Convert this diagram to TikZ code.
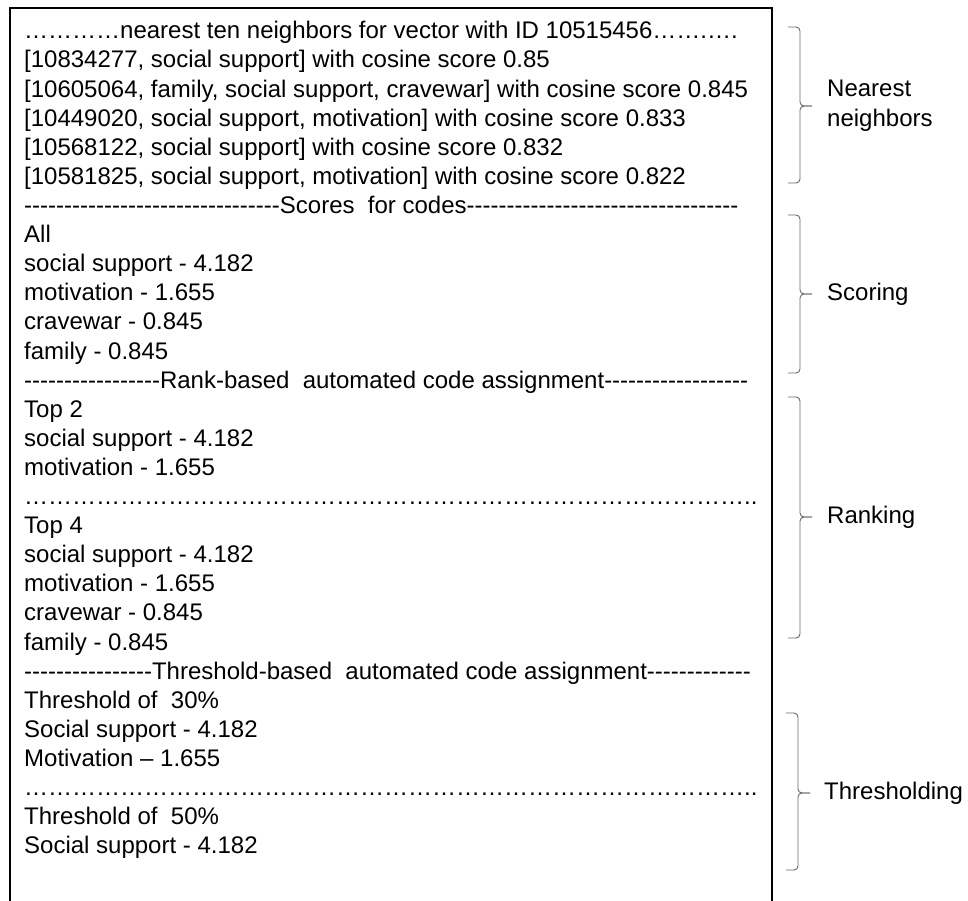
\documentclass[tikz,border=0pt]{standalone}
\usepackage{fontspec}
\setmainfont{Liberation Sans}[Ligatures=TeXOff]

% a row of dots across the frame
\newcommand{\dotrow}{\foreach\k in {1,...,30}{…}..}

\tikzset{
	row/.style={anchor=base west, inner sep=0pt, font=\fontsize{24}{29}\selectfont},
	tag/.style={anchor=west, inner sep=0pt, align=left, font=\fontsize{24}{30}\selectfont},
	curly/.style={draw=black!60, line width=0.9pt, rounded corners=4pt}
}

\begin{document}
\begin{tikzpicture}[x=1pt, y=-1pt]
	\useasboundingbox (0,0) rectangle (968,901);
	
	% frame, open at the bottom
	\draw[line width=2pt] (9.5,901) -- (9.5,8) -- (772,8) -- (772,901);
	
	% nearest neighbors
	\node[row] at (24,38.9) (r1) {…………nearest ten neighbors for vector with ID 10515456…….….};
	\node[row] at (24,68.0) (r2) {[10834277, social support] with cosine score 0.85};
	\node[row] at (24,97.1) (r3) {[10605064, family, social support, cravewar] with cosine score 0.845};
	\node[row] at (24,126.2) (r4) {[10449020, social support, motivation] with cosine score 0.833};
	\node[row] at (24,155.3) (r5) {[10568122, social support] with cosine score 0.832};
	\node[row] at (24,184.4) (r6) {[10581825, social support, motivation] with cosine score 0.822};
	
	% scores
	\node[row] at (24,213.5) (r7) {--------------------------------Scores\ \ for codes----------------------------------};
	\node[row] at (24,242.6) (r8) {All};
	\node[row] at (24,271.7) (r9) {social support - 4.182};
	\node[row] at (24,300.8) (r10) {motivation - 1.655};
	\node[row] at (24,329.9) (r11) {cravewar - 0.845};
	\node[row] at (24,359.0) (r12) {family - 0.845};
	
	% ranks
	\node[row] at (24,388.1) (r13) {-----------------Rank-based\ \ automated code assignment------------------};
	\node[row] at (24,417.2) (r14) {Top 2};
	\node[row] at (24,446.3) (r15) {social support - 4.182};
	\node[row] at (24,475.4) (r16) {motivation - 1.655};
	\node[row] at (24,504.5) (r17) {\dotrow};
	\node[row] at (24,533.6) (r18) {Top 4};
	\node[row] at (24,562.7) (r19) {social support - 4.182};
	\node[row] at (24,591.8) (r20) {motivation - 1.655};
	\node[row] at (24,620.9) (r21) {cravewar - 0.845};
	\node[row] at (24,650.0) (r22) {family - 0.845};
	
	% thresholds
	\node[row] at (24,679.1) (r23) {----------------Threshold-based\ \ automated code assignment-------------};
	\node[row] at (24,708.2) (r24) {Threshold of\ \ 30\%};
	\node[row] at (24,737.3) (r25) {Social support - 4.182};
	\node[row] at (24,766.4) (r26) {Motivation – 1.655};
	\node[row] at (24,795.5) (r27) {\dotrow};
	\node[row] at (24,824.6) (r28) {Threshold of\ \ 50\%};
	\node[row] at (24,853.7) (r29) {Social support - 4.182};
	
	% braces
	\coordinate (nnTop) at (788,27);
	\coordinate (nnTip) at (812,106);
	\coordinate (nnBot) at (788,183);
	\coordinate (scTop) at (788,215);
	\coordinate (scTip) at (812,294);
	\coordinate (scBot) at (788,373);
	\coordinate (rkTop) at (788,397);
	\coordinate (rkTip) at (812,517);
	\coordinate (rkBot) at (788,638);
	\coordinate (thTop) at (786,713);
	\coordinate (thTip) at (810,793);
	\coordinate (thBot) at (786,870);
	\draw[curly] (nnTop) -- ++(12,0) -- ([xshift=-12pt]nnTip) -- (nnTip);
	\draw[curly] (nnBot) -- ++(12,0) -- ([xshift=-12pt]nnTip) -- (nnTip);
	\draw[curly] (scTop) -- ++(12,0) -- ([xshift=-12pt]scTip) -- (scTip);
	\draw[curly] (scBot) -- ++(12,0) -- ([xshift=-12pt]scTip) -- (scTip);
	\draw[curly] (rkTop) -- ++(12,0) -- ([xshift=-12pt]rkTip) -- (rkTip);
	\draw[curly] (rkBot) -- ++(12,0) -- ([xshift=-12pt]rkTip) -- (rkTip);
	\draw[curly] (thTop) -- ++(12,0) -- ([xshift=-12pt]thTip) -- (thTip);
	\draw[curly] (thBot) -- ++(12,0) -- ([xshift=-12pt]thTip) -- (thTip);
	
	\node[tag] at (827,106) (nn) {Nearest\\neighbors};
	\node[tag] at (827,294) (sc) {Scoring};
	\node[tag] at (827,517) (rk) {Ranking};
	\node[tag] at (824,793) (th) {Thresholding};
\end{tikzpicture}
\end{document}
